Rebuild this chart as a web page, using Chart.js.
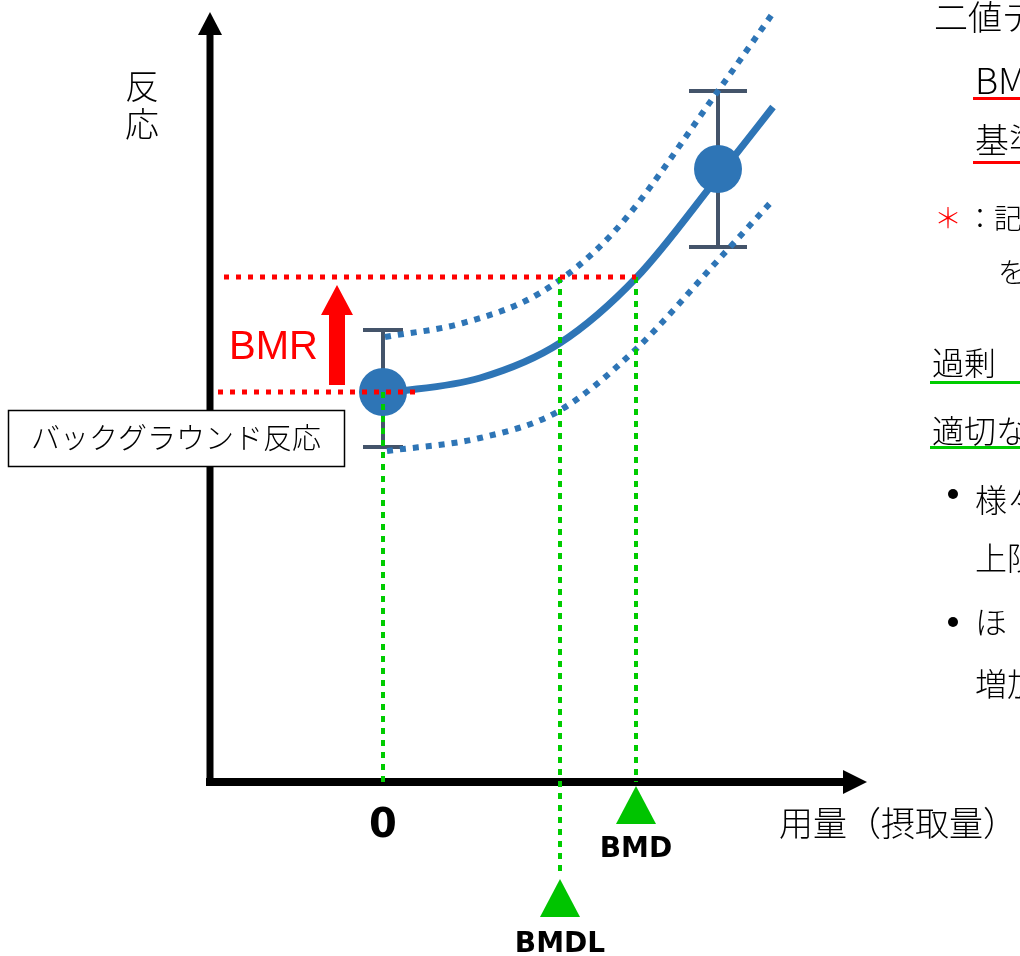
<!DOCTYPE html>
<html lang="ja">
<head>
<meta charset="utf-8">
<title>BMD</title>
<script src="https://cdn.jsdelivr.net/npm/chart.js@4.4.1/dist/chart.umd.min.js"></script>
<style>
html, body { margin: 0; padding: 0; background: #fff; }
canvas { display: block; }
</style>
</head>
<body>
<canvas id="bmdChart" width="1020" height="956"></canvas>
<script>
// dose (0 = control) and response (0 = x axis) in arbitrary units
const fitDose = [0.02, 0.97, 1.77, 2.54, 3.35, 3.90];
const fitResp = [3.89, 4.04, 4.39, 5.05, 6.05, 6.75];
const upperDose = [0.02, 0.80, 1.57, 2.30, 3.35, 3.90];
const upperResp = [4.45, 4.59, 4.89, 5.49, 6.91, 7.69];
const lowerDose = [0.04, 0.97, 1.74, 2.50, 3.37, 3.90];
const lowerResp = [3.31, 3.44, 3.70, 4.30, 5.24, 5.82];

const obsDose = [0, 3.35];
const obsMean = [3.90, 6.13];
const obsHigh = [4.52, 6.91];
const obsLow = [3.35, 5.35];

const bgResponse = 3.90;
const bmrResponse = 5.05;
const bmdl = 1.77;
const bmd = 2.53;

const yAxisLabel = ["反", "応"];
const xAxisLabel = "用量（摂取量）";
const bgLabel = "バックグラウンド反応";

const BLUE = "#2e75b6";
const RED = "#ff0000";
const GREEN = "#00cc00";
const JP = "'Noto Sans CJK JP', sans-serif";

function pts(xs, ys) {
    return xs.map((x, i) => ({ x: x, y: ys[i] }));
}

// axes, arrows, error bars, labels
const diagramPlugin = {
    id: "diagram",
    beforeDatasetsDraw(chart) {
        const ctx = chart.ctx;
        const px = v => chart.scales.x.getPixelForValue(v);
        const py = v => chart.scales.y.getPixelForValue(v);

        ctx.save();
        ctx.fillStyle = "#000";
        // y axis
        const ax = px(-1.73);
        ctx.fillRect(ax - 3.5, py(7.47), 7, py(-0.04) - py(7.47));
        ctx.beginPath();
        ctx.moveTo(ax, py(7.70));
        ctx.lineTo(ax - 12, py(7.47));
        ctx.lineTo(ax + 12, py(7.47));
        ctx.closePath();
        ctx.fill();
        // x axis
        const ay = py(0);
        ctx.fillRect(px(-1.77), ay - 4, px(4.60) - px(-1.77), 8);
        ctx.beginPath();
        ctx.moveTo(px(4.84), ay);
        ctx.lineTo(px(4.60), ay - 12);
        ctx.lineTo(px(4.60), ay + 12);
        ctx.closePath();
        ctx.fill();

        // error bars
        ctx.strokeStyle = "#44546a";
        ctx.lineWidth = 4;
        obsDose.forEach((d, i) => {
            const x = px(d);
            const cap = i === 0 ? 20 : 29;
            ctx.beginPath();
            ctx.moveTo(x, py(obsHigh[i]));
            ctx.lineTo(x, py(obsLow[i]));
            ctx.moveTo(x - cap, py(obsHigh[i]));
            ctx.lineTo(x + cap, py(obsHigh[i]));
            ctx.moveTo(x - cap, py(obsLow[i]));
            ctx.lineTo(x + cap, py(obsLow[i]));
            ctx.stroke();
        });
        ctx.restore();
    },
    afterDatasetsDraw(chart) {
        const ctx = chart.ctx;
        const px = v => chart.scales.x.getPixelForValue(v);
        const py = v => chart.scales.y.getPixelForValue(v);
        ctx.save();

        // BMR arrow
        const rx = px(-0.46);
        ctx.fillStyle = RED;
        ctx.fillRect(rx - 8, py(4.97) + 30, 16, py(bgResponse + 0.07) - py(4.97) - 30);
        ctx.beginPath();
        ctx.moveTo(rx, py(4.97));
        ctx.lineTo(rx - 16, py(4.97) + 30);
        ctx.lineTo(rx + 16, py(4.97) + 30);
        ctx.closePath();
        ctx.fill();
        ctx.font = "40px 'Liberation Sans', Arial, sans-serif";
        ctx.textAlign = "right";
        ctx.textBaseline = "alphabetic";
        ctx.fillText("BMR", rx - 19, py(4.23));

        // green triangles
        ctx.fillStyle = "#00c400";
        [[bmd, -0.04], [bmdl, -0.97]].forEach(([d, top]) => {
            const x = px(d), y = py(top);
            ctx.beginPath();
            ctx.moveTo(x, y);
            ctx.lineTo(x - 20, y + 38);
            ctx.lineTo(x + 20, y + 38);
            ctx.closePath();
            ctx.fill();
        });

        // dose labels
        ctx.fillStyle = "#000";
        ctx.textAlign = "center";
        ctx.textBaseline = "alphabetic";
        ctx.font = "bold 40px 'DejaVu Sans', Verdana, sans-serif";
        ctx.fillText("0", px(0), py(-0.55));
        ctx.font = "bold 28px 'DejaVu Sans', Verdana, sans-serif";
        ctx.fillText("BMD", px(bmd), py(-0.75));
        ctx.fillText("BMDL", px(bmdl), py(-1.70));

        // axis titles
        ctx.font = "300 34px " + JP;
        ctx.textBaseline = "middle";
        ctx.fillText(yAxisLabel[0], px(-2.41), py(6.96));
        ctx.fillText(yAxisLabel[1], px(-2.41), py(6.58));
        ctx.textAlign = "left";
        ctx.fillText(xAxisLabel, px(3.96), py(-0.41));

        // background response box
        ctx.fillStyle = "#fff";
        ctx.fillRect(8.5, 410.5, 336, 56);
        ctx.strokeStyle = "#000";
        ctx.lineWidth = 1.5;
        ctx.strokeRect(8.5, 410.5, 336, 56);
        ctx.fillStyle = "#000";
        ctx.textAlign = "center";
        ctx.font = "300 29px " + JP;
        ctx.fillText(bgLabel, 176, 438);

        // side notes (cut at the right edge)
        ctx.textAlign = "left";
        const notes = [
            ["二値データ", 934, 17, 34],
            ["BMR", 975, 80, 36],
            ["基準", 975, 140, 34],
            ["：記載", 966, 218, 28],
            ["を", 998, 272, 28],
            ["過剰", 932, 363, 32],
            ["適切な", 932, 431, 32],
            ["様々", 975, 500, 32],
            ["上限", 975, 558, 32],
            ["ほ", 975, 622, 32],
            ["増加", 975, 684, 32]
        ];
        notes.forEach(([t, x, y, s]) => {
            ctx.font = "300 " + s + "px " + JP;
            ctx.fillText(t, x, y);
        });
        // bullets
        [494, 622].forEach(y => {
            ctx.beginPath();
            ctx.arc(953, y, 5, 0, Math.PI * 2);
            ctx.fill();
        });
        ctx.fillStyle = RED;
        ctx.font = "300 28px " + JP;
        ctx.fillText("＊", 934, 218);

        ctx.lineWidth = 3;
        ctx.strokeStyle = RED;
        ctx.beginPath();
        ctx.moveTo(973, 98.5); ctx.lineTo(1020, 98.5);
        ctx.moveTo(973, 162.5); ctx.lineTo(1020, 162.5);
        ctx.stroke();
        ctx.strokeStyle = GREEN;
        ctx.beginPath();
        ctx.moveTo(930, 382.5); ctx.lineTo(1020, 382.5);
        ctx.moveTo(930, 447.5); ctx.lineTo(1020, 447.5);
        ctx.stroke();

        ctx.restore();
    }
};

const refLine = (data, color, width, dash) => ({
    data: data,
    showLine: true,
    borderColor: color,
    borderWidth: width,
    borderDash: dash,
    borderCapStyle: "butt",
    pointRadius: 0,
    order: 0
});

const curve = (data, width, dash) => ({
    data: data,
    showLine: true,
    borderColor: BLUE,
    borderWidth: width,
    borderDash: dash,
    borderCapStyle: "butt",
    cubicInterpolationMode: "monotone",
    pointRadius: 0,
    order: 2
});

new Chart(document.getElementById("bmdChart"), {
    type: "scatter",
    data: {
        datasets: [
            refLine([{ x: -1.65, y: bgResponse }, { x: 0.34, y: bgResponse }], RED, 5, [5, 7]),
            refLine([{ x: -1.59, y: bmrResponse }, { x: bmd, y: bmrResponse }], RED, 5, [5, 7]),
            refLine([{ x: 0, y: bgResponse }, { x: 0, y: 0 }], GREEN, 4, [6, 6]),
            refLine([{ x: bmdl, y: bmrResponse }, { x: bmdl, y: -0.93 }], GREEN, 4, [6, 6]),
            refLine([{ x: bmd, y: bmrResponse }, { x: bmd, y: 0 }], GREEN, 4, [6, 6]),
            {
                data: pts(obsDose, obsMean),
                pointRadius: 24,
                pointBackgroundColor: BLUE,
                pointBorderWidth: 0,
                order: 1
            },
            curve(pts(fitDose, fitResp), 7, []),
            curve(pts(upperDose, upperResp), 6, [6, 7]),
            curve(pts(lowerDose, lowerResp), 6, [6, 7])
        ]
    },
    options: {
        responsive: false,
        devicePixelRatio: 1,
        animation: false,
        layout: { padding: 0, autoPadding: false },
        plugins: {
            legend: { display: false },
            tooltip: { enabled: false }
        },
        scales: {
            x: { type: "linear", min: -3.83, max: 6.37, display: false },
            y: { type: "linear", min: -1.74, max: 7.82, display: false }
        }
    },
    plugins: [diagramPlugin]
});
</script>
</body>
</html>
